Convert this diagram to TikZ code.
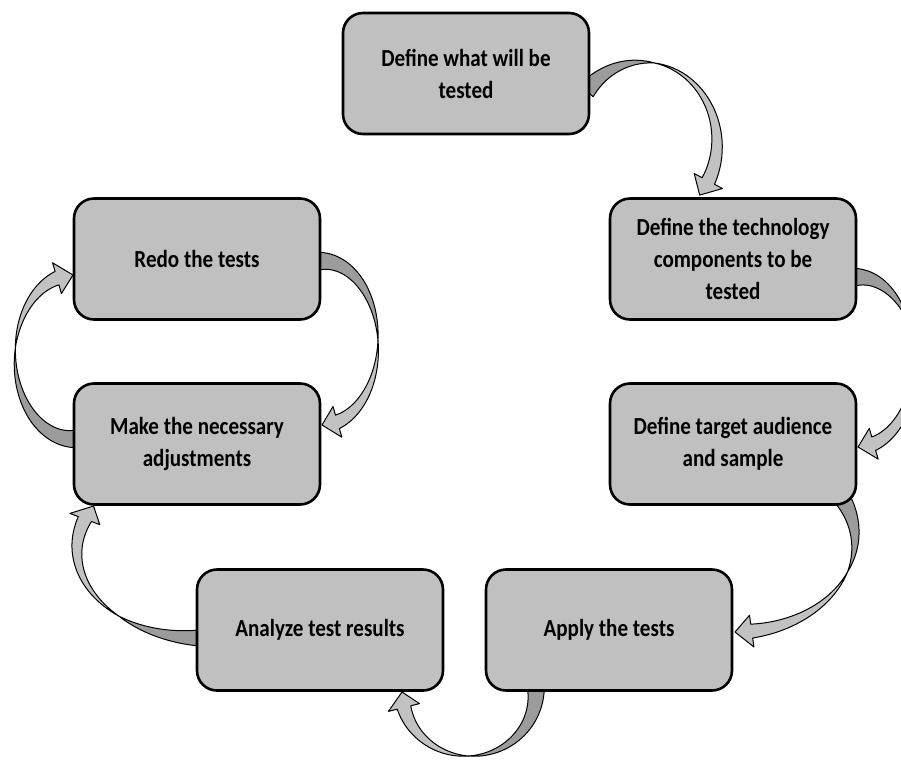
\documentclass[tikz,border=0pt]{standalone}
\usepackage{fontspec}
\newfontfamily\boxfont{Carlito}[FakeStretch=0.86]
\definecolor{boxgray}{HTML}{C0C0C0}
\definecolor{frontgray}{HTML}{C2C2C2}
\definecolor{backgray}{HTML}{9C9C9C}
\tikzset{
  stagebox/.style={draw=black, line width=2.6pt, fill=boxgray, rounded corners=20pt,
    minimum width=246pt, minimum height=121pt, align=center, inner sep=4pt,
    font=\boxfont\bfseries\fontsize{24.5}{32}\selectfont},
  backface/.style={fill=backgray, draw=black, line width=1pt, line join=round},
  frontface/.style={fill=frontgray, draw=black, line width=1pt, line join=round}
}
\def\wa{9}
\def\wb{7}
\def\hw{16}
% #1 cx, #2 cy, #3 rx, #4 ry, #5 tail angle, #6 head-base angle, #7 tip angle, #8 crossing fraction
\newcommand\carrow[8]{%
  \pgfmathsetmacro\axx{#5+#8*(#6-(#5))}%
  \filldraw[backface]
    plot[domain=#5:\axx,samples=30] ({#1+(#3+\wa*(\axx-(\x))/(\axx-(#5)))*cos(\x)},{#2+(#4+\wa*(\axx-(\x))/(\axx-(#5)))*sin(\x)})
    -- plot[domain=\axx:#5,samples=30] ({#1+(#3-\wa*(\axx-(\x))/(\axx-(#5)))*cos(\x)},{#2+(#4-\wa*(\axx-(\x))/(\axx-(#5)))*sin(\x)})
    -- cycle;
  \filldraw[frontface]
    plot[domain=\axx:#6,samples=30] ({#1+(#3-\wb*(\x-\axx)/(#6-\axx))*cos(\x)},{#2+(#4-\wb*(\x-\axx)/(#6-\axx))*sin(\x)})
    -- ({#1+(#3-\hw)*cos(#6)},{#2+(#4-\hw)*sin(#6)})
    -- ({#1+#3*cos(#7)},{#2+#4*sin(#7)})
    -- ({#1+(#3+\hw)*cos(#6)},{#2+(#4+\hw)*sin(#6)})
    -- plot[domain=#6:\axx,samples=30] ({#1+(#3+\wb*(\x-\axx)/(#6-\axx))*cos(\x)},{#2+(#4+\wb*(\x-\axx)/(#6-\axx))*sin(\x)})
    -- cycle;
}
\begin{document}
\begin{tikzpicture}[x=1pt,y=-1pt]
\useasboundingbox (0,0) rectangle (901,761);
\clip (0,0) rectangle (901,761);
\fill[white] (0,0) rectangle (901,761);
% curved block arrows
\carrow{643}{143}{74}{81}{-140}{28}{40}{0.35}
\carrow{858}{362}{57}{85}{-95}{74}{90}{0.4}
\carrow{735}{540}{120}{92}{-30}{82}{90}{0.45}
\carrow{469}{692}{67}{64}{-10}{166}{180}{0.57}
\carrow{200}{550}{123}{88}{85}{200.6}{210}{0.4}
\carrow{73}{357}{58}{82}{85}{254}{270}{0.6}
\carrow{322}{343}{56}{82}{-95}{74}{90}{0.55}
% boxes
\node[stagebox] (b1) at (466,73.5) {Define what will be\\tested};
\node[stagebox] (b2) at (733,259) {Define the technology\\components to be\\tested};
\node[stagebox] (b3) at (733,444) {Define target audience\\and sample};
\node[stagebox] (b4) at (609,630) {Apply the tests};
\node[stagebox] (b5) at (320,630) {Analyze test results};
\node[stagebox] (b6) at (197,444) {Make the necessary\\adjustments};
\node[stagebox] (b7) at (197,259) {Redo the tests};
\end{tikzpicture}
\end{document}
